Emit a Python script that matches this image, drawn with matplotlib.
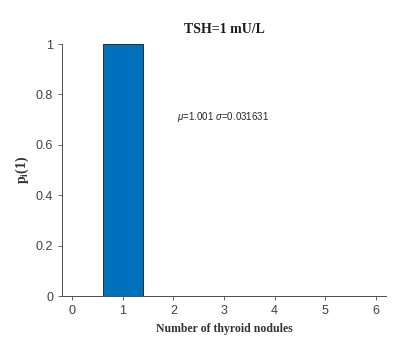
import matplotlib
matplotlib.use("Agg")
import matplotlib.pyplot as plt

plt.rcParams["mathtext.fontset"] = "custom"
plt.rcParams["mathtext.rm"] = "Liberation Serif:bold"
plt.rcParams["mathtext.bf"] = "Liberation Serif:bold"
plt.rcParams["mathtext.it"] = "Liberation Sans:italic"

nodules = [0, 1, 2, 3, 4, 5, 6]
probs = [0.0, 0.999, 0.001, 0.0, 0.0, 0.0, 0.0]
title = "TSH=1 mU/L"
xlabel = "Number of thyroid nodules"
ylabel = r"$\mathrm{p}_\mathrm{i}\mathrm{(1)}$"
stats_text = r"$\mu$=1.001 $\sigma$=0.031631"

fig = plt.figure(figsize=(4.11, 3.42), dpi=100)
ax = fig.add_axes([0.151, 0.1345, 0.788, 0.7365])
ax.bar(nodules, probs, width=0.8, color="#0072BD", edgecolor="#1a1a1a", linewidth=0.6)
ax.set_xlim(-0.2, 6.2)
ax.set_ylim(0, 1)
ax.set_xticks(range(0, 7))
ax.set_yticks([0, 0.2, 0.4, 0.6, 0.8, 1])
ax.set_yticklabels(["0", "0.2", "0.4", "0.6", "0.8", "1"])
for s in ["top", "right"]:
    ax.spines[s].set_visible(False)
for s in ["left", "bottom"]:
    ax.spines[s].set_color("#4d4d4d")
    ax.spines[s].set_linewidth(0.7)
ax.tick_params(direction="out", length=3, width=0.6, color="#4d4d4d",
               labelsize=9, labelcolor="#404040")
for lab in ax.get_xticklabels() + ax.get_yticklabels():
    lab.set_family("Liberation Sans")
ax.set_title(title, family="Liberation Serif", fontweight="bold", fontsize=10, pad=8, color="#1a1a1a")
ax.set_xlabel(xlabel, family="Liberation Serif", fontweight="bold", fontsize=8.5, color="#333333", labelpad=4)
ax.set_ylabel(ylabel, fontsize=10, color="#333333", labelpad=3)
ax.text(2.08, 0.71, stats_text, family="Liberation Sans", fontsize=7, color="#262626", va="center")
fig.savefig("out.png", dpi=100)
